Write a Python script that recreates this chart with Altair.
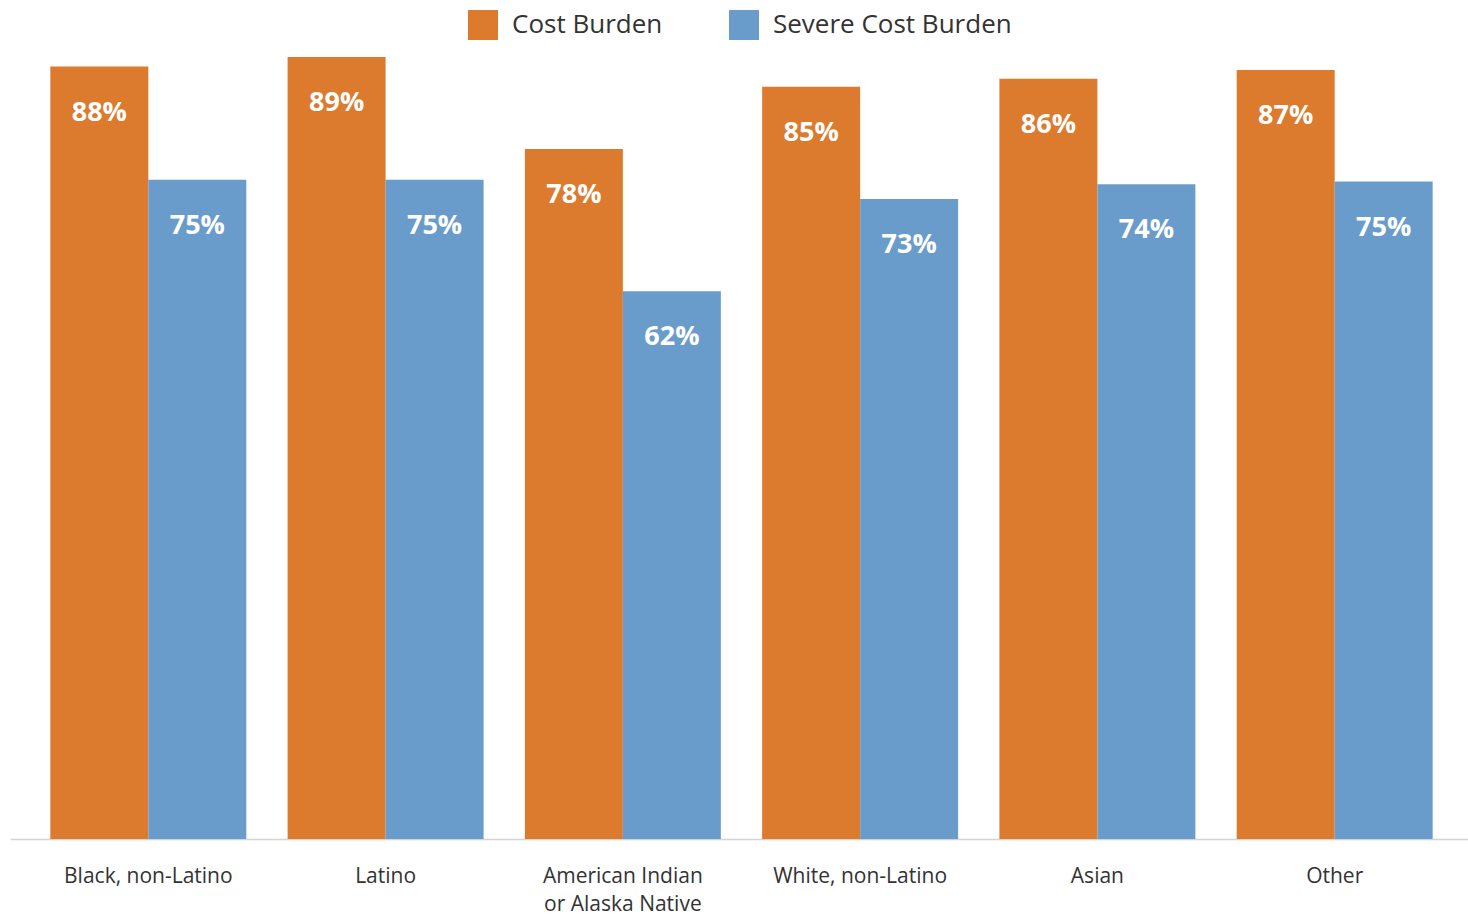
import altair as alt
import pandas as pd

categories = ["Black, non-Latino", "Latino", "American Indian or Alaska Native",
              "White, non-Latino", "Asian", "Other"]
series = ["Cost Burden", "Severe Cost Burden"]
cost_burden = [88.0, 89.1, 78.6, 85.7, 86.6, 87.6]
severe_cost_burden = [75.1, 75.1, 62.4, 72.9, 74.6, 74.9]
cost_labels = ["88%", "89%", "78%", "85%", "86%", "87%"]
severe_labels = ["75%", "75%", "62%", "73%", "74%", "75%"]
colors = ["#DC7A2E", "#6A9CCB"]

rows = []
for i, c in enumerate(categories):
    rows.append({"cat": c, "series": series[0], "value": cost_burden[i], "label": cost_labels[i]})
    rows.append({"cat": c, "series": series[1], "value": severe_cost_burden[i], "label": severe_labels[i]})
df = pd.DataFrame(rows)

FONT = "Open Sans"

x = alt.X(
    "cat:N",
    sort=categories,
    title=None,
    scale=alt.Scale(paddingInner=0.174, paddingOuter=0.17, range=[0, 1463]),
    axis=alt.Axis(
        labelAngle=0,
        labelFontSize=21,
        labelFont=FONT,
        labelColor="#333333",
        labelPadding=26,
        labelLineHeight=28,
        labelBaseline="top",
        ticks=False,
        domainColor="#D4D4D4",
        domainWidth=1.5,
        labelExpr="datum.label == 'American Indian or Alaska Native' ? ['American Indian', 'or Alaska Native'] : datum.label",
    ),
)
xoff = alt.XOffset("series:N", sort=series, scale=alt.Scale(paddingInner=0, paddingOuter=0))
y = alt.Y("value:Q", scale=alt.Scale(domain=[0, 90], nice=False, zero=True), axis=None)

bars = alt.Chart(df).mark_bar().encode(
    x=x,
    xOffset=xoff,
    y=y,
    color=alt.Color(
        "series:N",
        sort=series,
        scale=alt.Scale(domain=series, range=colors),
        legend=alt.Legend(
            title=None,
            orient="none",
            legendX=458,
            legendY=-39,
            direction="horizontal",
            symbolType="square",
            symbolSize=900,
            symbolStrokeWidth=0,
            labelFontSize=26,
            labelFont=FONT,
            labelColor="#333333",
            labelOffset=14,
            columnPadding=66,
            padding=0,
            labelLimit=400,
        ),
    ),
)

texts = alt.Chart(df).mark_text(
    dy=46, baseline="middle", align="center", font=FONT, fontSize=27, fontWeight="bold", color="#FFFFFF"
).encode(
    x=x,
    xOffset=xoff,
    y=y,
    text="label:N",
)

chart = (
    alt.layer(bars, texts)
    .properties(
        width=1456,
        height=790,
        padding={"left": 10, "top": 49, "right": 2, "bottom": 76},
        autosize=alt.AutoSizeParams(type="none"),
        background="#FFFFFF",
    )
    .configure_view(stroke=None)
)

chart.save("out.html", embed_options={"renderer": "svg", "actions": False})
